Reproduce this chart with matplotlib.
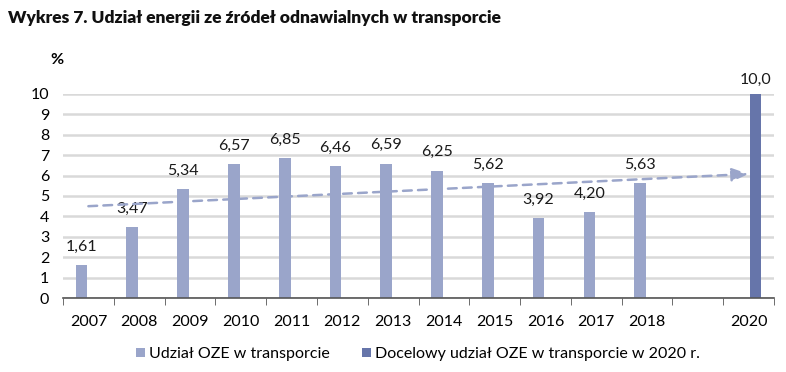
import matplotlib
matplotlib.use("Agg")
import matplotlib.pyplot as plt
import numpy as np

plt.rcParams['font.family'] = ['Lato', 'DejaVu Sans']

years = ["2007", "2008", "2009", "2010", "2011", "2012", "2013", "2014",
         "2015", "2016", "2017", "2018", "", "2020"]
actual = [1.61, 3.47, 5.34, 6.57, 6.85, 6.46, 6.59, 6.25, 5.62, 3.92, 4.20, 5.63, None, None]
target = [None] * 13 + [10.0]
actual_labels = ["1,61", "3,47", "5,34", "6,57", "6,85", "6,46", "6,59", "6,25",
                 "5,62", "3,92", "4,20", "5,63", "", ""]
target_labels = [""] * 13 + ["10,0"]
trend_start = 4.5
trend_end = 6.08
yticks = list(range(0, 11))

c_light = "#9AA5CA"
c_dark = "#6675AA"

fig = plt.figure(figsize=(7.86, 3.72), dpi=100)
ax = fig.add_axes([63/786, 1 - 298/372, (774-63)/786, (298-94)/372])

x = np.arange(len(years))
w = 0.23
off = 0.135
for i, v in enumerate(actual):
    if v is not None:
        ax.bar(x[i] - off, v, width=w, color=c_light, zorder=3)
        ax.text(x[i] - off, v + 0.55, actual_labels[i], ha='center', va='bottom',
                fontsize=11.5, color='#1a1a1a')
for i, v in enumerate(target):
    if v is not None:
        ax.bar(x[i] + off, v, width=w, color=c_dark, zorder=3)
        ax.text(x[i] + off, v + 0.35, target_labels[i], ha='center', va='bottom',
                fontsize=11.5, color='#1a1a1a')

# legend proxies
ax.bar([0], [0], color=c_light, label="Udział OZE w transporcie")
ax.bar([0], [0], color=c_dark, label="Docelowy udział OZE w transporcie w 2020 r.")

ax.annotate("", xy=(13, trend_end), xytext=(0, trend_start),
            arrowprops=dict(arrowstyle="-|>,head_length=1.0,head_width=0.4",
                            color=c_light, lw=1.8, linestyle=(0, (3.5, 2.5)),
                            shrinkA=0, shrinkB=0),
            zorder=4)

ax.set_xlim(-0.5, 13.5)
ax.set_ylim(0, 10)
ax.set_yticks(yticks)
ax.set_yticklabels([str(t) for t in yticks], fontsize=11.5)
ax.set_xticks(x)
ax.set_xticklabels(years, fontsize=11.5)
ax.set_xticks(np.arange(-0.5, 13.6, 1), minor=True)
ax.tick_params(axis='x', which='major', length=0, pad=12)
ax.tick_params(axis='x', which='minor', length=5, color='#555555', direction='out')
ax.tick_params(axis='y', length=0, pad=10)
ax.grid(axis='y', color='#D9D9D9', lw=1.8, zorder=0)
ax.set_axisbelow(True)
for s in ['top', 'right', 'left']:
    ax.spines[s].set_visible(False)
ax.spines['bottom'].set_color('#555555')
ax.spines['bottom'].set_linewidth(1.2)
ax.spines['bottom'].set_zorder(5)

fig.text(8/786, 1 - 18/372, "Wykres 7. Udział energii ze źródeł odnawialnych w transporcie",
         fontsize=12.5, fontweight='heavy', va='center', ha='left', color='#111111')
fig.text(57/786, 1 - 60/372, "%", fontsize=11.5, fontweight='bold', va='center', ha='center')

handles, labels = ax.get_legend_handles_labels()
fig.legend(handles, labels, loc='center', bbox_to_anchor=(418/786, 1 - 354/372),
           ncol=2, frameon=False, fontsize=11.5, handlelength=0.55, handleheight=0.55,
           handletextpad=0.25, columnspacing=2.0)

fig.savefig("out.png", dpi=100)
